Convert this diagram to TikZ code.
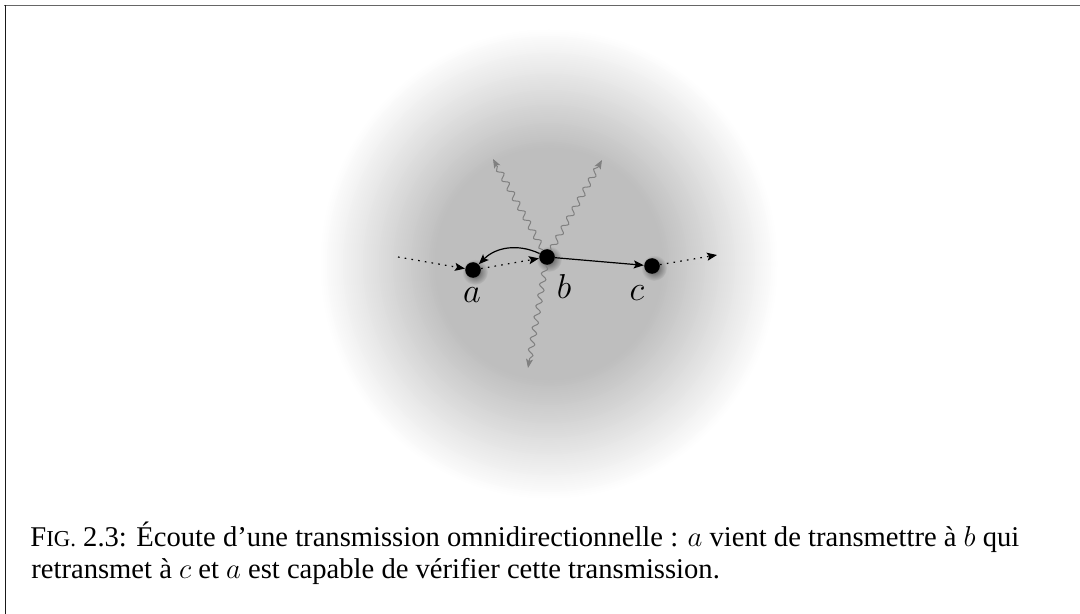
\documentclass[tikz,border=0pt]{standalone}
\usepackage{fontspec}
\setmainfont{Liberation Serif}
\usetikzlibrary{arrows.meta,decorations.pathmorphing,fadings}
\tikzfading[name=glowfade, inner color=transparent!0, outer color=transparent!100]
\begin{document}
\begin{tikzpicture}[x=0.5pt,y=-0.5pt,
  station/.style={circle,fill=black,inner sep=0pt,minimum size=7.8pt},
  lbl/.style={inner sep=0pt,font=\fontsize{18}{20}\selectfont},
  arrowtip/.style={-{Stealth[length=5pt,width=4pt,inset=1pt]}},
  dotarrow/.style={arrowtip, line width=0.6pt, dash pattern=on 0.8pt off 2.6pt},
  solidarrow/.style={arrowtip, line width=0.6pt},
  wave/.style={black!50, line width=0.5pt, -{Stealth[length=4.5pt,width=3.5pt,inset=1pt]}, decorate, decoration={snake,amplitude=1.4pt,segment length=5.5pt,post length=4pt}},
  glow/.style={fill=black, opacity=0.6, path fading=glowfade},
  captext/.style={anchor=base west, inner sep=0pt, font=\fontsize{14.3}{17}\selectfont}
]
\useasboundingbox (0,0) rectangle (1080,614);
\fill[white] (0,0) rectangle (1080,614);
% frame
\draw[black!60, line width=0.75pt] (4,5.5) -- (1080,5.5);
\draw[black!90, line width=0.75pt] (5.5,5) -- (5.5,614);
% halo: stepwise radial fade
\foreach \i in {0,...,57}{
  \pgfmathsetmacro\rx{228-2*\i}
  \pgfmathsetmacro\ry{234-2.07*\i}
  \pgfmathsetmacro\pc{25.5*(\i+1)/58}
  \fill[black!\pc] (549,264) ellipse [x radius=\rx, y radius=\ry];
}
% glows
\fill[glow] (475,272) circle (13);
\fill[glow] (549,259) circle (13);
\fill[glow] (654,268) circle (13);
% stations
\node[station] (a) at (473,270) {};
\node[station] (b) at (547,257) {};
\node[station] (c) at (652,266) {};
% labels
\node[lbl] (la) at (472,295) {$a$};
\node[lbl] (lb) at (564,287) {$b$};
\node[lbl] (lc) at (637,293) {$c$};
% coordinates
\coordinate (in1) at (398,257);
\coordinate (out1) at (717,255);
\coordinate (w1) at (493,159);
\coordinate (w2) at (602,160);
\coordinate (w3) at (528,368);
% waves
\draw[wave] (b) -- (w1);
\draw[wave] (b) -- (w2);
\draw[wave] (b) -- (w3);
% arrows
\draw[dotarrow] (in1) -- (a);
\draw[dotarrow] (a) -- (b);
\draw[solidarrow] (b) to[bend right=35] (a);
\draw[solidarrow] (b) -- (c);
\draw[dotarrow] (c) -- (out1);
% caption
\node[captext] (cap1) at (30,546) {F{\fontsize{11.4}{13}\selectfont IG.} 2.3: Écoute d’une transmission omnidirectionnelle : $a$ vient de transmettre à $b$ qui};
\node[captext] (cap2) at (31,578) {retransmet à $c$ et $a$ est capable de vérifier cette transmission.};
\end{tikzpicture}
\end{document}
